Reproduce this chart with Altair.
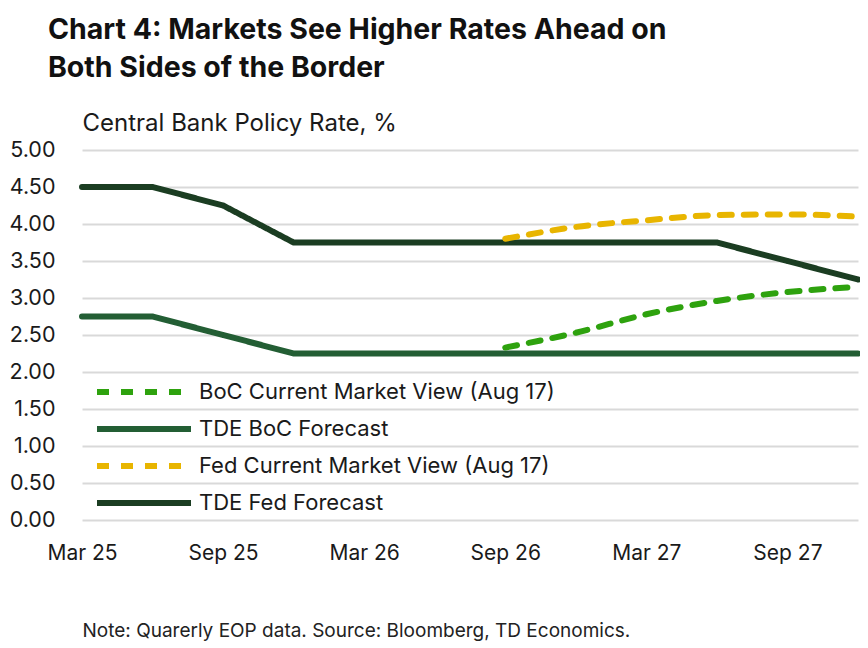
import altair as alt
import pandas as pd

quarters = ["Mar 25", "Jun 25", "Sep 25", "Dec 25", "Mar 26", "Jun 26",
            "Sep 26", "Dec 26", "Mar 27", "Jun 27", "Sep 27", "Dec 27"]
tick_labels = ["Mar 25", "Sep 25", "Mar 26", "Sep 26", "Mar 27", "Sep 27"]

tde_fed = [4.50, 4.50, 4.25, 3.75, 3.75, 3.75, 3.75, 3.75, 3.75, 3.75, 3.50, 3.25]
tde_boc = [2.75, 2.75, 2.50, 2.25, 2.25, 2.25, 2.25, 2.25, 2.25, 2.25, 2.25, 2.25]
# market views only start in Sep 26
market_quarters = quarters[6:]
fed_market = [3.80, 3.96, 4.05, 4.12, 4.13, 4.10]
boc_market = [2.33, 2.53, 2.78, 2.96, 3.08, 3.15]

series_names = ["BoC Current Market View (Aug 17)", "TDE BoC Forecast",
                "Fed Current Market View (Aug 17)", "TDE Fed Forecast"]
series_colors = ["#2ea20e", "#235e34", "#e8b500", "#1b3d22"]
series_dashes = [[12, 12], [1, 0], [12, 12], [1, 0]]

frames = [
    pd.DataFrame({"quarter": market_quarters, "rate": boc_market, "series": series_names[0], "kind": "market"}),
    pd.DataFrame({"quarter": quarters, "rate": tde_boc, "series": series_names[1], "kind": "forecast"}),
    pd.DataFrame({"quarter": market_quarters, "rate": fed_market, "series": series_names[2], "kind": "market"}),
    pd.DataFrame({"quarter": quarters, "rate": tde_fed, "series": series_names[3], "kind": "forecast"}),
]
df = pd.concat(frames, ignore_index=True)
df["order"] = df["quarter"].map({q: i for i, q in enumerate(quarters)})

font = "Inter"
text_color = "#1a1a1a"

base = alt.Chart(df).encode(
    x=alt.X("quarter:O", sort=quarters,
            scale=alt.Scale(type="point", domain=quarters, padding=0),
            axis=alt.Axis(values=tick_labels, labelAngle=0, grid=False, domain=False, ticks=False,
                          tickSize=0, labelPadding=22, labelFontSize=21, labelColor=text_color,
                          labelFont=font, labelBaseline="top",
                          title="Note: Quarerly EOP data. Source: Bloomberg, TD Economics.",
                          titleFont=font, titleFontSize=19, titleFontWeight="normal",
                          titleColor="#222222", titleAlign="left", titleAnchor="start",
                          titleX=0, titleY=110, titleBaseline="middle")),
    y=alt.Y("rate:Q", scale=alt.Scale(domain=[0, 5], nice=False),
            axis=alt.Axis(values=[0, 0.5, 1, 1.5, 2, 2.5, 3, 3.5, 4, 4.5, 5], format=".2f",
                          grid=True, gridColor="#d9d9d9", gridWidth=2, domain=False, ticks=False,
                          tickSize=0, labelPadding=27, labelFontSize=21.5, labelColor=text_color,
                          labelFont=font,
                          title="Central Bank Policy Rate, %", titleFont=font, titleFontSize=24,
                          titleFontWeight="normal", titleColor=text_color, titleAngle=0,
                          titleAlign="left", titleBaseline="middle", titleX=0, titleY=-27)),
    color=alt.Color("series:N", scale=alt.Scale(domain=series_names, range=series_colors),
                    legend=alt.Legend(title=None, orient="none", legendX=49, legendY=229, padding=0,
                                      symbolType="M-4.7,0L4.7,0", symbolSize=400,
                                      symbolStrokeWidth=6, labelFont=font, labelFontSize=22,
                                      labelColor=text_color, labelLimit=0, rowPadding=12,
                                      labelOffset=42)),
    strokeDash=alt.StrokeDash("series:N", scale=alt.Scale(domain=series_names, range=series_dashes),
                              legend=None),
    order="order:Q",
    detail="series:N",
)

forecast_lines = base.mark_line(strokeWidth=6, strokeCap="round", strokeJoin="round").transform_filter(
    alt.datum.kind == "forecast")
market_lines = base.mark_line(strokeWidth=6, strokeCap="round", interpolate="monotone").transform_filter(
    alt.datum.kind == "market")

chart = alt.layer(forecast_lines, market_lines).properties(
    width=776,
    height=370,
    autosize=alt.AutoSizeParams(type="none"),
    padding={"left": 74, "top": 142, "right": 2, "bottom": 128},
    title=alt.TitleParams(
        text=["Chart 4: Markets See Higher Rates Ahead on", "Both Sides of the Border"],
        font=font, fontSize=28.5, fontWeight="bold", color="#111111",
        anchor="start", frame="group", dx=-34, dy=-29, lineHeight=38, offset=0,
    ),
).configure_view(stroke=None)

chart.save("out.html", embed_options={"renderer": "svg", "actions": False})
